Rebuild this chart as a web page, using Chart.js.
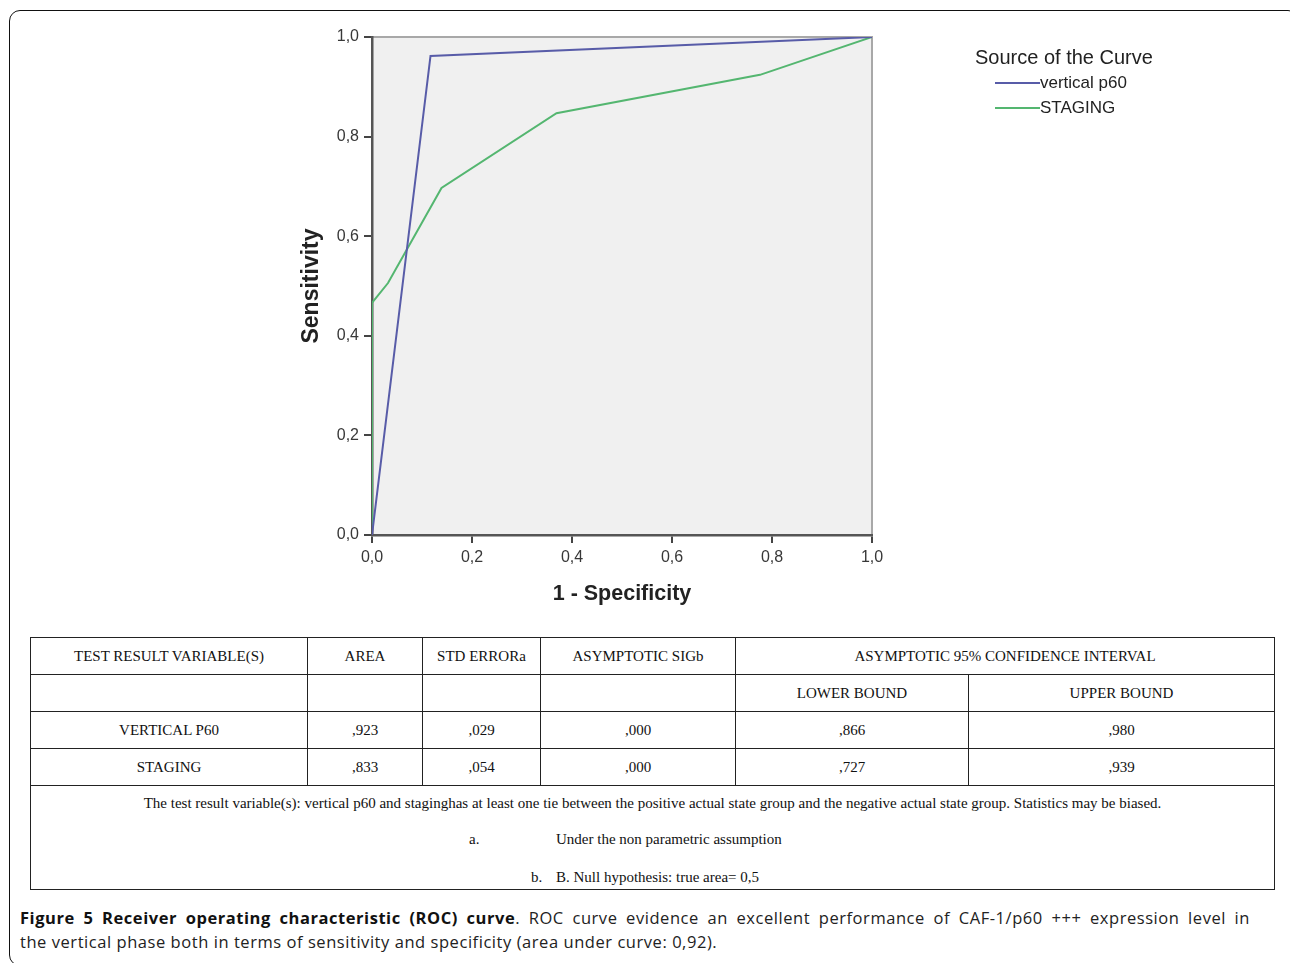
<!DOCTYPE html>
<html>
<head>
<meta charset="utf-8">
<script src="https://cdn.jsdelivr.net/npm/chart.js@4.4.1/dist/chart.umd.min.js"></script>
<style>
  html, body { margin: 0; padding: 0; background: #fff; overflow: hidden; }
  body { width: 1290px; height: 963px; position: relative; }
  #frame { position: absolute; left: 9px; top: 10px; width: 1290px; height: 956px;
           border: 1.5px solid #111; border-radius: 11px; box-sizing: border-box; }
  #wrap { position: absolute; left: 280px; top: 20px; width: 920px; height: 600px; }
  #legend { position: absolute; left: 975px; top: 46px; font-family: "Liberation Sans", Arial, sans-serif; color: #222; }
  #legend .title { font-size: 20px; margin-bottom: 1px; }
  #legend .item { font-size: 17px; height: 25px; line-height: 25px; display: flex; align-items: center; margin-left: 20px; }
  #legend .item span.ln { display: inline-block; width: 45px; height: 2px; margin-right: 0; }
  table { position: absolute; left: 30px; top: 637px; width: 1245px; border-collapse: collapse;
          font-family: "Liberation Serif", "Times New Roman", serif; font-size: 15px; color: #111; }
  td { border: 1.5px solid #222; text-align: center; padding: 0; height: 36px; }
  td.note { height: 101px; padding: 0; vertical-align: top; }
  .note div { position: relative; height: 38px; line-height: 38px; }
  .note div.l0 { height: 34px; line-height: 34px; }
  .note div.l2 { height: 31px; }
  .note span { position: absolute; top: 0; white-space: nowrap; }
  #caption { position: absolute; left: 20px; top: 906px; width: 1230px; font-family: "Open Sans", sans-serif;
             font-size: 16.5px; letter-spacing: 0.55px; line-height: 24px; color: #222; white-space: nowrap; }
  #caption .first { text-align: justify; text-align-last: justify; }
  #caption b { color: #111; }
</style>
</head>
<body>
<div id="frame"></div>
<div id="wrap"><canvas id="roc"></canvas></div>
<div id="legend"></div>
<table id="stats"></table>
<div id="caption"><div class="first"><b>Figure 5 Receiver operating characteristic (ROC) curve</b>. ROC curve evidence an excellent performance of CAF-1/p60 +++ expression level in</div><div>the vertical phase both in terms of sensitivity and specificity (area under curve: 0,92).</div></div>

<script>
// ROC curve points
const seriesNames = ['vertical p60', 'STAGING'];
const seriesColors = ['rgb(88,92,168)', 'rgb(84,182,112)'];
const p60X = [0, 0.117, 1];
const p60Y = [0, 0.962, 1];
const stagingX = [0, 0, 0.032, 0.139, 0.369, 0.776, 1];
const stagingY = [0, 0.466, 0.506, 0.697, 0.847, 0.924, 1];
const axisTicks = [0, 0.2, 0.4, 0.6, 0.8, 1.0];

// table values
const tableHead = ['TEST RESULT VARIABLE(S)', 'AREA', 'STD ERRORa', 'ASYMPTOTIC SIGb', 'ASYMPTOTIC 95% CONFIDENCE INTERVAL'];
const boundHead = ['LOWER BOUND', 'UPPER BOUND'];
const rowNames = ['VERTICAL P60', 'STAGING'];
const areas = [',923', ',833'];
const stdErrors = [',029', ',054'];
const sigs = [',000', ',000'];
const lowerBounds = [',866', ',727'];
const upperBounds = [',980', ',939'];
const noteMain = 'The test result variable(s): vertical p60 and staginghas at least one tie between the positive actual state group and the negative actual state group. Statistics may be biased.';
const footMarks = ['a.', 'b.'];
const footTexts = ['Under the non parametric assumption', 'B. Null hypothesis: true area= 0,5'];

function pts(xs, ys) {
  return xs.map((x, i) => ({ x: x, y: ys[i] }));
}
function comma(v) {
  return v.toFixed(1).replace('.', ',');
}

// plot background and light top/right frame
const plotBox = {
  id: 'plotBox',
  beforeDraw(chart) {
    const { ctx, chartArea: a } = chart;
    ctx.save();
    ctx.fillStyle = '#f0f0f0';
    ctx.fillRect(a.left, a.top, a.right - a.left, a.bottom - a.top);
    ctx.strokeStyle = '#a8a8a8';
    ctx.lineWidth = 2;
    ctx.beginPath();
    ctx.moveTo(a.left, a.top);
    ctx.lineTo(a.right, a.top);
    ctx.lineTo(a.right, a.bottom);
    ctx.stroke();
    ctx.restore();
  }
};

const tickFont = { family: '"Liberation Sans", Arial, sans-serif', size: 16 };
const fam = '"Liberation Sans", Arial, sans-serif';

new Chart(document.getElementById('roc'), {
  type: 'scatter',
  data: {
    datasets: [
      { label: seriesNames[0], data: pts(p60X, p60Y), borderColor: seriesColors[0] },
      { label: seriesNames[1], data: pts(stagingX, stagingY), borderColor: seriesColors[1] }
    ].map(d => Object.assign(d, { showLine: true, borderWidth: 2, pointRadius: 0, fill: false, tension: 0 }))
  },
  options: {
    responsive: true,
    maintainAspectRatio: false,
    animation: false,
    layout: { padding: { top: 17, right: 328, bottom: 0, left: 0 } },
    plugins: { legend: { display: false }, tooltip: { enabled: false } },
    scales: {
      x: {
        type: 'linear', min: 0, max: 1,
        afterBuildTicks(s) { s.ticks = axisTicks.map(v => ({ value: v })); },
        afterFit(s) { s.height = 85; },
        ticks: { callback: v => comma(v), font: tickFont, color: '#383838', padding: 5, maxRotation: 0 },
        grid: { drawOnChartArea: false, drawTicks: true, tickLength: 8, tickColor: '#444', lineWidth: 2 },
        border: { color: '#555', width: 2.5 },
        title: { display: true, text: '1 - Specificity', font: { family: fam, size: 21.5, weight: 'bold' }, color: '#222', padding: { top: 0, bottom: 13 } }
      },
      y: {
        type: 'linear', min: 0, max: 1,
        afterBuildTicks(s) { s.ticks = axisTicks.map(v => ({ value: v })); },
        afterFit(s) { s.width = 92; },
        ticks: { callback: v => comma(v), font: tickFont, color: '#383838', padding: 5 },
        grid: { drawOnChartArea: false, drawTicks: true, tickLength: 8, tickColor: '#444', lineWidth: 2 },
        border: { color: '#555', width: 2.5 },
        title: { display: true, text: 'Sensitivity', font: { family: fam, size: 23, weight: 'bold' }, color: '#222', padding: { top: 18, bottom: 0 } }
      }
    }
  },
  plugins: [plotBox]
});

// legend
const lg = document.getElementById('legend');
lg.innerHTML = '<div class="title">Source of the Curve</div>' + seriesNames.map((n, i) =>
  '<div class="item"><span class="ln" style="background:' + seriesColors[i] + '"></span>' + n + '</div>').join('');

// table
let html = '<tr>' + tableHead.map((h, i) => '<td' + (i === 4 ? ' colspan="2"' : '') + ' style="width:' +
  [276, 114, 117, 194, 544][i] + 'px">' + h + '</td>').join('') + '</tr>';
html += '<tr><td></td><td></td><td></td><td></td><td style="width:232px">' + boundHead[0] + '</td><td>' + boundHead[1] + '</td></tr>';
rowNames.forEach((r, i) => {
  html += '<tr>' + [r, areas[i], stdErrors[i], sigs[i], lowerBounds[i], upperBounds[i]].map(c => '<td>' + c + '</td>').join('') + '</tr>';
});
const markLeft = [438, 500];
html += '<tr><td class="note" colspan="6"><div class="l0">' + noteMain + '</div>' +
  footMarks.map((m, i) => '<div class="l' + (i + 1) + '"><span style="left:' + markLeft[i] + 'px">' + m +
    '</span><span style="left:525px">' + footTexts[i] + '</span></div>').join('') + '</td></tr>';
document.getElementById('stats').innerHTML = html;
</script>
</body>
</html>
